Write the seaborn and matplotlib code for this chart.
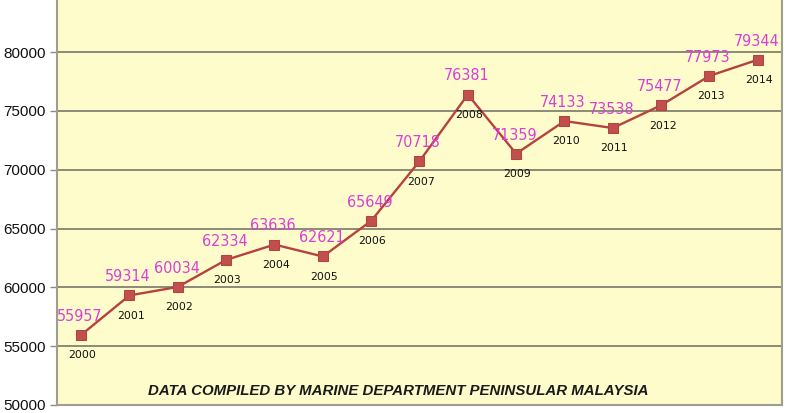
import matplotlib
matplotlib.use("Agg")
import matplotlib.pyplot as plt
import seaborn as sns
import pandas as pd

years = [2000, 2001, 2002, 2003, 2004, 2005, 2006, 2007, 2008, 2009, 2010, 2011, 2012, 2013, 2014]
values = [55957, 59314, 60034, 62334, 63636, 62621, 65649, 70718, 76381, 71359, 74133, 73538, 75477, 77973, 79344]
yticks = [50000, 55000, 60000, 65000, 70000, 75000, 80000]
footer = "DATA COMPILED BY MARINE DEPARTMENT PENINSULAR MALAYSIA"

df = pd.DataFrame({"year": years, "value": values})

sns.set_theme(style="white")
plt.rcParams["font.family"] = ["Liberation Sans", "DejaVu Sans"]

fig = plt.figure(figsize=(8, 4.13), dpi=100)
ax = fig.add_axes([57 / 800, 8 / 413, 725 / 800, 405 / 413])
ax.set_facecolor("#FEFCCB")

sns.lineplot(data=df, x="year", y="value", ax=ax, color="#B5423F", linewidth=1.7,
             marker="s", markersize=7.5, markerfacecolor="#C0504D",
             markeredgecolor="#B5423F", zorder=3)

ax.set_xlim(years[0] - 0.5, years[-1] + 0.5)
ax.set_ylim(50000, 84420)
ax.set_yticks(yticks)
ax.set_yticklabels([str(t) for t in yticks], fontsize=11, color="#111111")
ax.set_xticks([])
ax.set_xlabel("")
ax.set_ylabel("")
ax.grid(axis="y", color="#8A8A78", linewidth=1.4)
ax.set_axisbelow(True)
ax.tick_params(axis="y", length=5, width=1, color="#8E8E7E", pad=3, left=True)

ax.spines["top"].set_visible(False)
for side in ["left", "right", "bottom"]:
    ax.spines[side].set_color("#9E9E8E")
    ax.spines[side].set_linewidth(1.5)

for x, v in zip(years, values):
    ax.annotate(str(v), (x, v), xytext=(-1, 8), textcoords="offset points",
                ha="center", va="bottom", fontsize=11.5, color="#D93FD6",
                fontweight="medium", family=["DejaVu Sans"], fontstretch="condensed")
    ax.annotate(str(x), (x, v), xytext=(1, -11), textcoords="offset points",
                ha="center", va="top", fontsize=7.8, color="#111111",
                family=["DejaVu Sans"])

ax.text(0.47, 0.035, footer, transform=ax.transAxes, ha="center", va="center",
        fontsize=10.8, fontweight="bold", fontstyle="italic", color="#1A1A1A")

fig.savefig("out.png", dpi=100, facecolor="white")
